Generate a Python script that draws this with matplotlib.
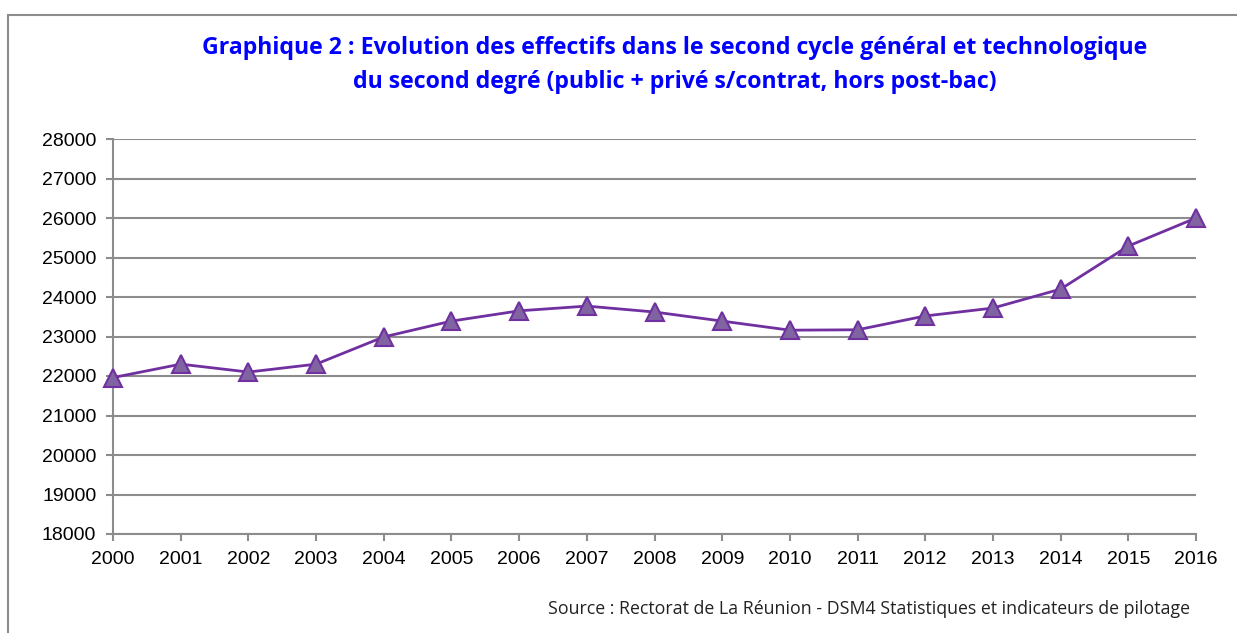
import matplotlib.pyplot as plt
from matplotlib.patches import Rectangle

# ---------------------------------------------------
# Data
# ---------------------------------------------------

years = list(range(2000, 2017))
effectifs = [21960, 22300, 22100, 22300, 22990, 23390, 23650, 23770, 23620,
             23390, 23160, 23170, 23520, 23720, 24200, 25290, 26000]

y_ticks = list(range(18000, 28001, 1000))

title = ("Graphique 2 : Evolution des effectifs dans le second cycle général et technologique\n"
         "du second degré (public + privé s/contrat, hors post-bac)")
source = "Source : Rectorat de La Réunion - DSM4 Statistiques et indicateurs de pilotage"

# ---------------------------------------------------
# Plot
# ---------------------------------------------------

fig = plt.figure(figsize=(12.37, 6.33), dpi=100)

# outer frame (open at right and bottom, cropped)
fig.patches.append(Rectangle((8 / 1237, -0.05), 1.1, (633 - 15) / 633 + 0.05,
                             transform=fig.transFigure, fill=False,
                             edgecolor="#8c8c8c", linewidth=1.5))

ax = fig.add_axes([113 / 1237, 99 / 633, (1196 - 113) / 1237, (534 - 139) / 633])

ax.plot(years, effectifs, color="#7030A0", linewidth=2,
        marker="^", markersize=13, markerfacecolor="#8064A2",
        markeredgecolor="#7030A0", markeredgewidth=1.5, clip_on=False, zorder=3)

ax.set_xlim(2000, 2016)
ax.set_ylim(18000, 28000)
ax.set_xticks(years)
ax.set_yticks(y_ticks)

ax.grid(axis="y", color="#8c8c8c", linewidth=1.5)
ax.set_axisbelow(True)

for side in ["top", "right"]:
    ax.spines[side].set_visible(False)
for side in ["left", "bottom"]:
    ax.spines[side].set_color("#8c8c8c")
    ax.spines[side].set_linewidth(1.5)

ax.tick_params(axis="both", direction="out", color="#8c8c8c", width=1.5,
               length=5, labelsize=14)
ax.tick_params(axis="y", pad=7)
ax.tick_params(axis="x", pad=7)
for lab in ax.get_xticklabels() + ax.get_yticklabels():
    lab.set_fontfamily("Liberation Sans")

fig.text(675 / 1237, 1 - 65 / 633, title, ha="center", va="center",
         color="#0000FF", fontsize=16.7, fontweight="bold",
         fontfamily="Open Sans", linespacing=1.55)

fig.text(1190 / 1237, 1 - 609 / 633, source, ha="right", va="center",
         color="#222222", fontsize=12.8, fontfamily="Open Sans")

fig.savefig("out.png", dpi=100)
